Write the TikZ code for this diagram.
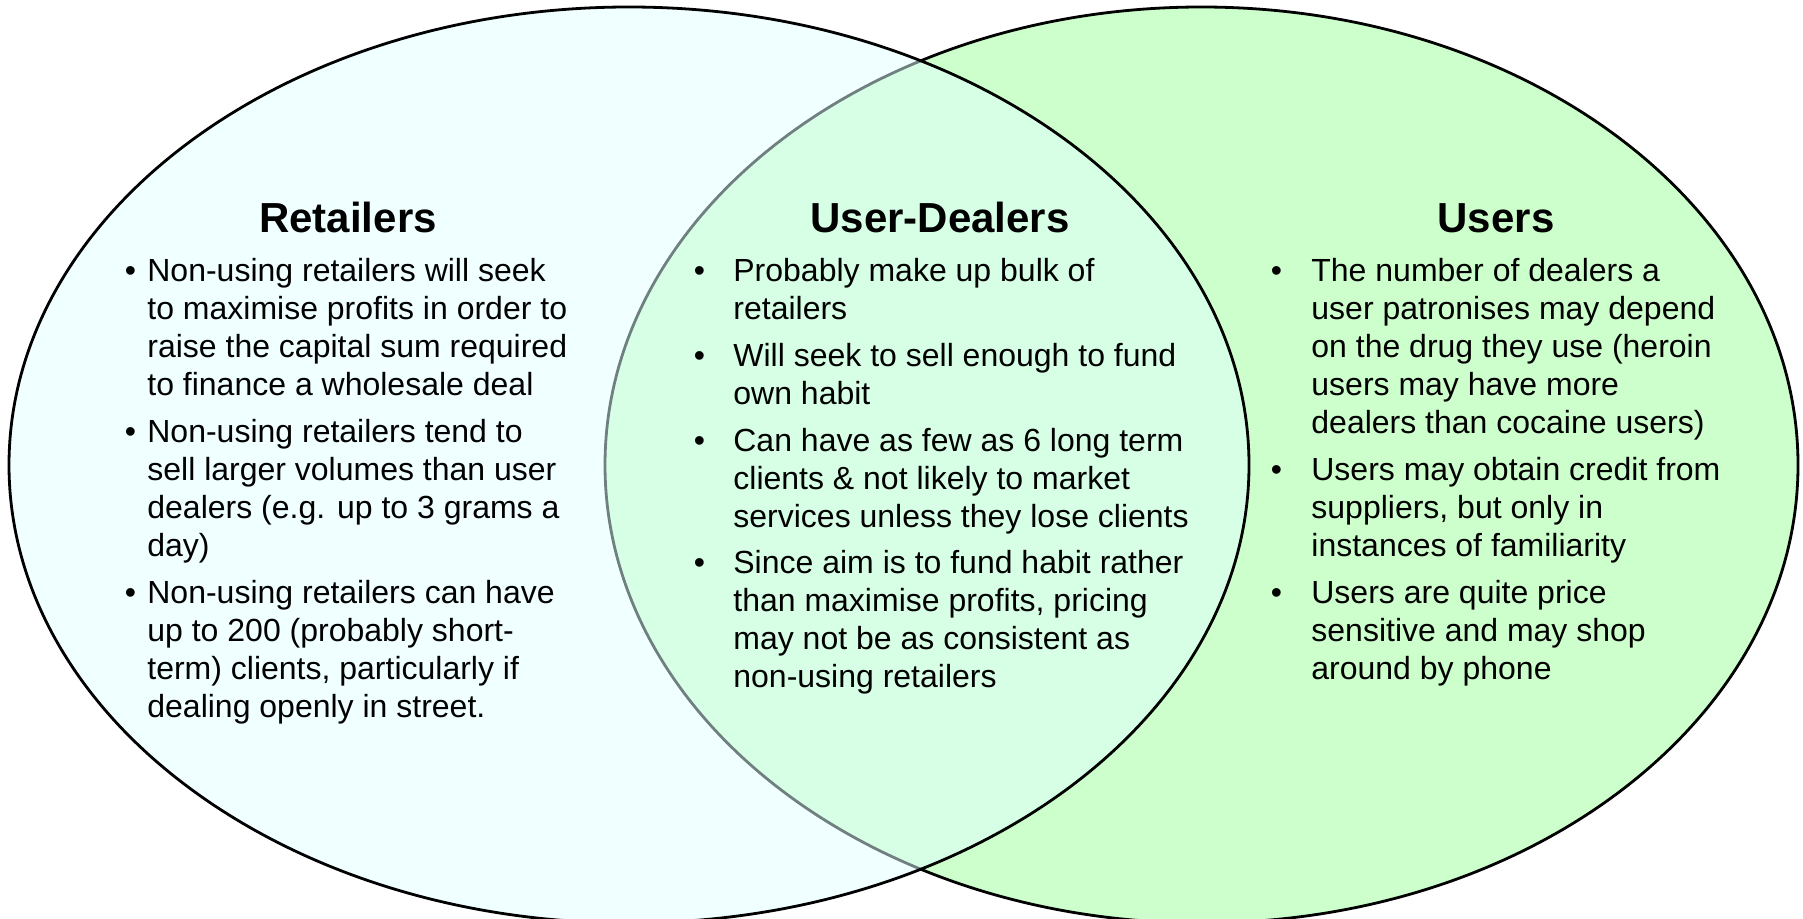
\documentclass[tikz,border=0pt]{standalone}
\usepackage{fontspec}
\setmainfont{Liberation Sans}
\usepackage{xcolor}
\usepackage{tikz}
\usetikzlibrary{positioning}

\definecolor{retailfill}{RGB}{225,255,255}
\definecolor{userfill}{RGB}{204,255,204}
\newcommand{\bul}[1]{\makebox[0pt][r]{\textbullet\hspace{#1}}\strut}

\begin{document}
\begin{tikzpicture}[x=0.5pt, y=-0.5pt,
  heading/.style={font=\fontsize{21}{25}\selectfont\bfseries, anchor=base, inner sep=0pt},
  point/.style={font=\fontsize{16}{19}\selectfont, align=left, inner sep=0pt, anchor=north west}]
\useasboundingbox (0,0) rectangle (1803,919);

% users first, the retailers fill tints the overlap
\draw[line width=1.4pt, fill=userfill] (1201.5,465) ellipse [x radius=298.25pt, y radius=229pt];
\draw[line width=1.4pt, fill=retailfill, fill opacity=0.5] (629,465) ellipse [x radius=310pt, y radius=229pt];

% retailers
\node[heading] (retail) at (348,233) {Retailers};
\node[point] (r1) at (147,254.4) {\bul{5.7pt}Non-using retailers will seek\\to maximise profits in order to\\raise the capital sum required\\to finance a wholesale deal\strut};
\node[point, below=4pt of r1.south west, anchor=north west] (r2) {\bul{5.7pt}Non-using retailers tend to\\sell larger volumes than user\\dealers (e.g. up to 3 grams a\\day)\strut};
\node[point, below=4pt of r2.south west, anchor=north west] (r3) {\bul{5.7pt}Non-using retailers can have\\up to 200 (probably short-\\term) clients, particularly if\\dealing openly in street.\strut};

% user-dealers
\node[heading] (userdeal) at (940,233) {User-Dealers};
\node[point] (d1) at (733,254.4) {\bul{14.2pt}Probably make up bulk of\\retailers\strut};
\node[point, below=4pt of d1.south west, anchor=north west] (d2) {\bul{14.2pt}Will seek to sell enough to fund\\own habit\strut};
\node[point, below=4pt of d2.south west, anchor=north west] (d3) {\bul{14.2pt}Can have as few as 6 long term\\clients \& not likely to market\\services unless they lose clients\strut};
\node[point, below=4pt of d3.south west, anchor=north west] (d4) {\bul{14.2pt}Since aim is to fund habit rather\\than maximise profits, pricing\\may not be as consistent as\\non-using retailers\strut};

% users
\node[heading] (users) at (1496,233) {Users};
\node[point] (u1) at (1311,254.4) {\bul{14.7pt}The number of dealers a\\user patronises may depend\\on the drug they use (heroin\\users may have more\\dealers than cocaine users)\strut};
\node[point, below=4pt of u1.south west, anchor=north west] (u2) {\bul{14.7pt}Users may obtain credit from\\suppliers, but only in\\instances of familiarity\strut};
\node[point, below=4pt of u2.south west, anchor=north west] (u3) {\bul{14.7pt}Users are quite price\\sensitive and may shop\\around by phone\strut};
\end{tikzpicture}
\end{document}
